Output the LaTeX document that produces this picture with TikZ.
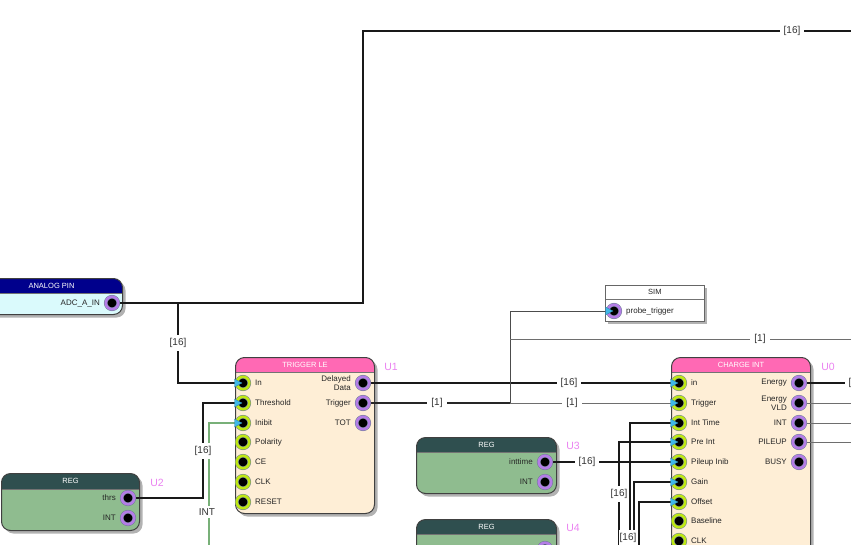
\documentclass[tikz,border=0pt]{standalone}
\usepackage{fontspec}
\setmainfont{Liberation Sans}
\usetikzlibrary{shadows}

\definecolor{pinIn}{RGB}{190,232,20}
\definecolor{pinOut}{RGB}{180,125,230}
\definecolor{pinRim}{RGB}{110,125,150}
\definecolor{tipC}{RGB}{64,184,232}
\definecolor{hdPink}{RGB}{255,105,180}
\definecolor{bdPeach}{RGB}{254,238,214}
\definecolor{hdNavy}{RGB}{0,0,140}
\definecolor{bdCyan}{RGB}{218,250,252}
\definecolor{hdSlate}{RGB}{47,79,79}
\definecolor{bdSage}{RGB}{143,188,143}
\definecolor{uLbl}{RGB}{234,130,240}
\definecolor{wireG}{RGB}{110,110,110}
\definecolor{intG}{RGB}{120,176,120}

\pgfdeclarelayer{bg}
\pgfdeclarelayer{wire}
\pgfsetlayers{bg,wire,main}

\tikzset{
  blk/.style n args={3}{draw=black!75, line width=1pt, rounded corners=9pt, anchor=north west,
    inner sep=0pt, fill=#2,
    drop shadow={shadow xshift=3pt, shadow yshift=-3pt, fill=black, opacity=0.3},
    path picture={\fill[#1, sharp corners] (path picture bounding box.north west) rectangle ([yshift=-#3]path picture bounding box.north east);
      \draw[black!55, line width=0.8pt, sharp corners] ([yshift=-#3]path picture bounding box.north west) -- ([yshift=-#3]path picture bounding box.north east);}},
  ttl/.style={text=white, font=\fontsize{7.5}{9}\selectfont},
  port/.style={circle, inner sep=0pt, minimum size=12.5pt, fill=black, draw=pinRim,
    line width=0.5pt, double=#1, double distance=2.6pt},
  inport/.style={port=pinIn},
  outport/.style={port=pinOut},
  plbl/.style={font=\fontsize{8}{9.5}\selectfont, text=black!85, label distance=4.5pt, inner sep=1pt, align=left},
  plblr/.style={plbl, align=right},
  bus/.style={line width=2.2pt, black!90},
  sig/.style={line width=1.5pt, black!85},
  thinw/.style={line width=0.9pt, wireG},
  intw/.style={line width=1.1pt, intG},
  lab/.style={fill=white, inner xsep=4pt, inner ysep=3pt, font=\fontsize{10}{11}\selectfont, text=black!80},
  vlab/.style={lab, inner xsep=0.5pt},
  ulbl/.style={text=uLbl, font=\fontsize{10.5}{12}\selectfont}
}

\begin{document}
\begin{tikzpicture}[x=1pt, y=-1pt]
\useasboundingbox (0,0) rectangle (851,544);

% blocks
\begin{pgfonlayer}{bg}
\node[blk={hdNavy}{bdCyan}{15pt}, minimum width=142pt, minimum height=36pt] (apin) at (-20,278) {};
\node[blk={hdPink}{bdPeach}{15pt}, minimum width=139pt, minimum height=156pt] (tle) at (235,357) {};
\node[blk={hdPink}{bdPeach}{15pt}, minimum width=139pt, minimum height=220pt] (chg) at (671,357) {};
\node[blk={hdSlate}{bdSage}{16pt}, minimum width=138pt, minimum height=57pt] (reg2) at (1,473) {};
\node[blk={hdSlate}{bdSage}{15pt}, minimum width=140pt, minimum height=56pt] (reg3) at (416,437) {};
\node[blk={hdSlate}{bdSage}{15pt}, minimum width=140pt, minimum height=60pt] (reg4) at (416,519) {};
\node[blk={white}{white}{14pt}, sharp corners, draw=black!60, line width=0.8pt,
  minimum width=99pt, minimum height=36pt] (sim) at (605,285) {};
\end{pgfonlayer}

\node[ttl] at ([yshift=-7.5pt]apin.north) {ANALOG PIN};
\node[ttl] at ([yshift=-7.5pt]tle.north) {TRIGGER LE};
\node[ttl] at ([yshift=-7.5pt]chg.north) {CHARGE INT};
\node[ttl] at ([yshift=-8pt]reg2.north) {REG};
\node[ttl] at ([yshift=-7.5pt]reg3.north) {REG};
\node[ttl] at ([yshift=-7.5pt]reg4.north) {REG};
\node[ttl, text=black!85] at ([yshift=-7pt]sim.north) {SIM};

\node[ulbl] at (391,367) {U1};
\node[ulbl] at (828,367) {U0};
\node[ulbl] at (157,483) {U2};
\node[ulbl] at (573,446) {U3};
\node[ulbl] at (573,528) {U4};

% ports
\node[outport, label={[plblr]180:ADC\_A\_IN}] (aOut) at (112,303) {};
\node[outport, label={[plbl]0:probe\_trigger}] (simP) at (614,311) {};
\foreach \n/\y/\t in {tIn/383/In, tThr/403/Threshold, tInh/423/Inibit, tPol/442/Polarity,
    tCE/462/CE, tClk/482/CLK, tRst/502/RESET}
  \node[inport, label={[plbl]0:\t}] (\n) at (243,\y) {};
\foreach \n/\y/\t in {tDly/383/Delayed\\Data, tTrg/403/Trigger, tTot/423/TOT}
  \node[outport, label={[plblr]180:\t}] (\n) at (363,\y) {};
\foreach \n/\y/\t in {cIn/383/in, cTrg/403/Trigger, cIT/423/Int Time, cPI/442/Pre Int,
    cPil/462/Pileup Inib, cGain/482/Gain, cOff/502/Offset, cBase/521/Baseline, cClk/541/CLK}
  \node[inport, label={[plbl]0:\t}] (\n) at (679,\y) {};
\foreach \n/\y/\t in {cEn/383/Energy, cVld/403/Energy\\VLD, cInt/423/INT, cPile/442/PILEUP, cBusy/462/BUSY}
  \node[outport, label={[plblr]180:\t}] (\n) at (799,\y) {};
\node[outport, label={[plblr]180:thrs}] (r2Thr) at (128,498) {};
\node[outport, label={[plblr]180:INT}] (r2Int) at (128,518) {};
\node[outport, label={[plblr]180:inttime}] (r3Time) at (545,462) {};
\node[outport, label={[plblr]180:INT}] (r3Int) at (545,482) {};
\node[outport] (r4Out) at (545,549) {};

\foreach \p in {tIn,tThr,tInh,cIn,cTrg,cIT,cPI,cPil,cGain,cOff,simP}
  \filldraw[fill=tipC, draw=tipC!70!black, line width=0.3pt]
    ([xshift=-8.5pt,yshift=4pt]\p.center) -- ([xshift=-8.5pt,yshift=-4pt]\p.center) -- ([xshift=-1pt]\p.center) -- cycle;

% wires
\begin{pgfonlayer}{wire}
\coordinate (topEnd) at (870,31);
\coordinate (trgEnd) at (870,339);
\draw[bus] (aOut) -| (363,31) -- (topEnd);
\draw[bus] (178,303) |- (tIn);
\draw[bus] (r2Thr) -| (203,403) -- (tThr);
\draw[intw] (tInh) -| (209,560);
\draw[bus] (tDly) -- (cIn);
\draw[sig] (tTrg) -- (510,403);
\draw[thinw] (510,403) -- (cTrg);
\draw[line width=0.9pt, black!70] (510,403) |- (simP);
\draw[thinw] (510,339) -- (trgEnd);
\draw[bus] (r3Time) -- (cPil);
\draw[bus] (cIT) -| (630,560);
\draw[bus] (cPI) -| (619,560);
\draw[bus] (cGain) -| (634,560);
\draw[bus] (cOff) -| (639,560);
\draw[bus] (cEn) -- ++(80,0);
\foreach \p in {cVld,cInt,cPile}
  \draw[thinw] (\p) -- ++(70,0);
\end{pgfonlayer}

% bus labels
\node[lab] at (792,31) {[16]};
\node[lab] at (178,343) {[16]};
\node[vlab] at (203,451) {[16]};
\node[lab, inner xsep=1pt] at (207,512) {INT};
\node[lab] at (569,383) {[16]};
\node[lab] at (437,403) {[1]};
\node[lab] at (572,403) {[1]};
\node[lab] at (760,339) {[1]};
\node[lab] at (587,462) {[16]};
\node[vlab] at (619,494) {[16]};
\node[vlab] at (628,538) {[16]};
\node[lab] at (857,383) {[16]};
\end{tikzpicture}
\end{document}
